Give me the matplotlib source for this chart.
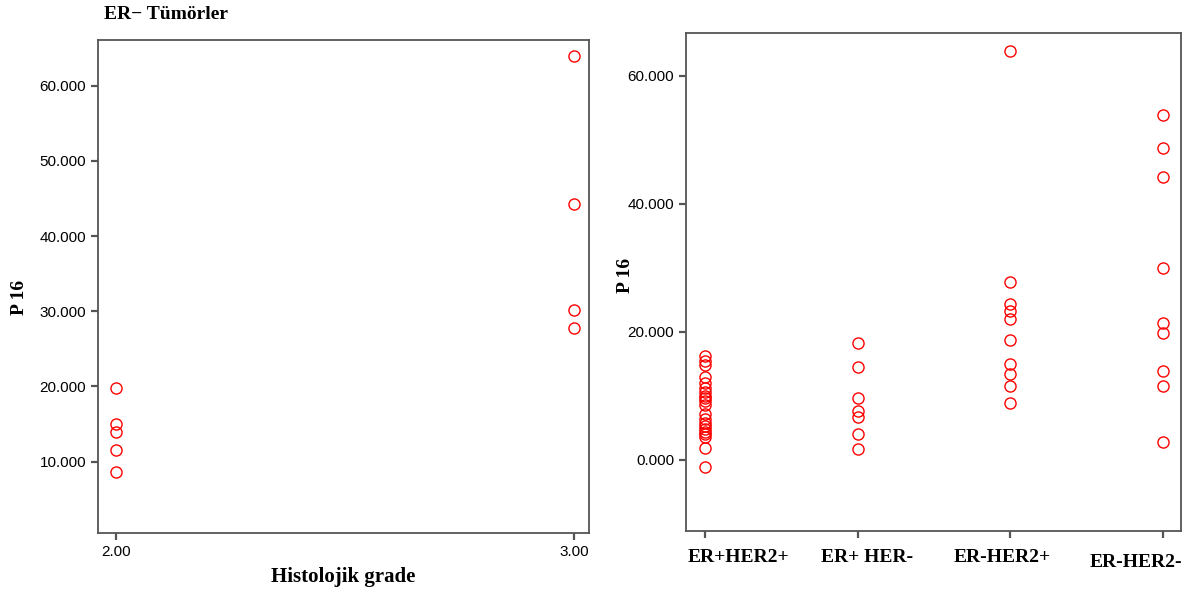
import matplotlib.pyplot as plt
import matplotlib.transforms as mtransforms

# left panel: ER- tumours by histological grade
grade_2 = [19.8, 15.0, 14.0, 11.6, 8.6]
grade_3 = [64.0, 44.3, 30.2, 27.8]
grade_ticks = [2.0, 3.0]
grade_labels = ["2.00", "3.00"]

# right panel: P16 by receptor group
groups = ["ER+HER2+", "ER+ HER-", "ER-HER2+", "ER-HER2-"]
er_pos_her2_pos = [16.3, 15.5, 14.8, 13.0, 12.0, 11.2, 10.6, 10.0, 9.6, 9.2,
                   8.6, 7.2, 6.4, 5.8, 5.3, 4.8, 4.4, 4.0, 3.6, 1.8, -1.1]
er_pos_her_neg = [18.3, 14.5, 9.7, 7.7, 6.7, 4.1, 1.7]
er_neg_her2_pos = [63.9, 27.8, 24.3, 23.3, 22.0, 18.8, 15.0, 13.5, 11.6, 8.9]
er_neg_her2_neg = [53.9, 48.8, 44.2, 30.0, 21.4, 19.8, 13.9, 11.6, 2.8]

serif = "Liberation Serif"
sans = "Liberation Sans"
spine_col = "#555555"


def style_axes(ax):
    for side in ["top", "right", "bottom", "left"]:
        ax.spines[side].set_color(spine_col)
        ax.spines[side].set_linewidth(1.3)
    ax.tick_params(direction="out", length=5, width=1.6, color=spine_col,
                   top=False, right=False)


def dots(ax, xs, ys):
    ax.plot(xs, ys, linestyle="none", marker="o", markersize=8.0,
            markerfacecolor="none", markeredgecolor="red", markeredgewidth=1.0)


fig = plt.figure(figsize=(11.9, 5.95), dpi=100)

ax1 = fig.add_axes([0.0824, 0.1042, 0.4126, 0.8286])
dots(ax1, [2.0] * len(grade_2), grade_2)
dots(ax1, [3.0] * len(grade_3), grade_3)
ax1.set_xlim(1.961, 3.033)
ax1.set_ylim(0.5, 66.1)
ax1.set_yticks([10, 20, 30, 40, 50, 60])
ax1.set_yticklabels(["%.3f" % v for v in [10, 20, 30, 40, 50, 60]],
                    fontfamily=sans, fontsize=11)
ax1.set_xticks(grade_ticks)
ax1.set_xticklabels(grade_labels, fontfamily=sans, fontsize=11)
ax1.set_xlabel("Histolojik grade", fontfamily=serif, fontweight="bold",
               fontsize=15, labelpad=6)
ax1.set_ylabel("P 16", fontfamily=serif, fontweight="bold", fontsize=14)
ax1.yaxis.set_label_coords(-0.143, 0.477)
style_axes(ax1)
fig.text(0.087, 0.975, "ER\u2212 Tümörler", fontfamily=serif,
         fontweight="bold", fontsize=14, va="center", ha="left")

ax2 = fig.add_axes([0.5765, 0.1076, 0.416, 0.837])
for i, vals in enumerate([er_pos_her2_pos, er_pos_her_neg,
                          er_neg_her2_pos, er_neg_her2_neg]):
    dots(ax2, [i + 1] * len(vals), vals)
ax2.set_xlim(0.876, 4.118)
ax2.set_ylim(-11.1, 66.7)
ax2.set_yticks([0, 20, 40, 60])
ax2.set_yticklabels(["%.3f" % v for v in [0, 20, 40, 60]],
                    fontfamily=sans, fontsize=11)
ax2.set_xticks([1, 2, 3, 4])
ax2.set_xticklabels(groups, fontfamily=serif, fontweight="bold", fontsize=14)
ax2.tick_params(axis="x", pad=8)
ax2.set_ylabel("P 16", fontfamily=serif, fontweight="bold", fontsize=14)
ax2.yaxis.set_label_coords(-0.105, 0.514)
style_axes(ax2)

# the original labels are not centred on their ticks (pixel shifts)
shifts = [(33, 0), (9, 0), (-8, 0), (-27, -5)]
for lab, (dx, dy) in zip(ax2.get_xticklabels(), shifts):
    lab.set_transform(lab.get_transform() +
                      mtransforms.ScaledTranslation(dx / 100, dy / 100,
                                                    fig.dpi_scale_trans))

fig.savefig("out.png", dpi=100)
